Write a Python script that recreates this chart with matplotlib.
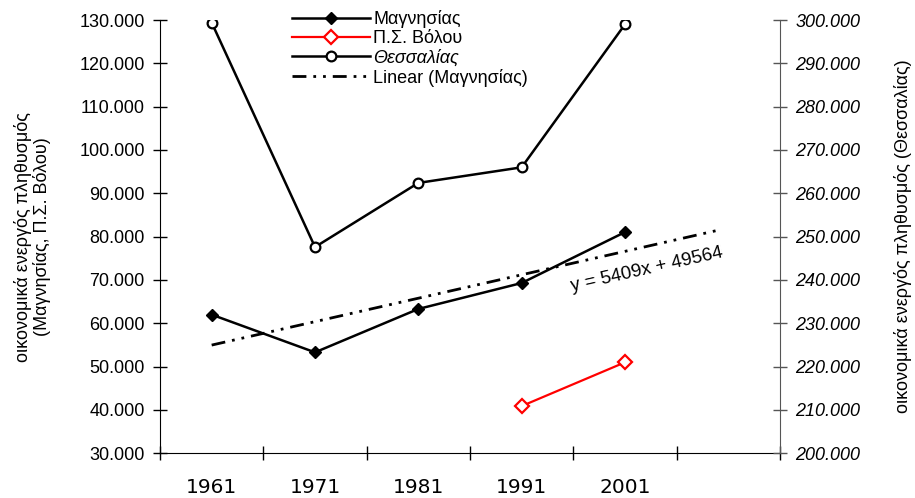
import numpy as np
import matplotlib
matplotlib.use("Agg")
import matplotlib.pyplot as plt
from matplotlib.ticker import FuncFormatter, FixedLocator
from matplotlib import font_manager

years = ["1961", "1971", "1981", "1991", "2001"]
magnesia = [62000, 53300, 63310, 69300, 81045]
volos_years_idx = [3, 4]
volos = [40900, 51000]
thessalia = [299400, 247600, 262400, 266000, 299000]
trend_label = "y = 5409x + 49564"

names = {f.name for f in font_manager.fontManager.ttflist}
narrow = "Liberation Sans Narrow" if "Liberation Sans Narrow" in names else "Liberation Sans"

plt.rcParams['font.family'] = ['Liberation Sans', 'DejaVu Sans']

fig = plt.figure(figsize=(9.15, 4.98), dpi=100)
ax = fig.add_axes([160/915, 1-453.3/498, 620/915, 433.3/498])
ax2 = ax.twinx()

x = np.arange(len(years))
l1, = ax.plot(x, magnesia, color='black', lw=1.8, marker='D', ms=6.5,
              mfc='black', mec='black', label='Μαγνησίας', zorder=4)
l2, = ax.plot(volos_years_idx, volos, color='red', lw=1.6, marker='D', ms=7,
              mfc='white', mec='red', mew=1.6, label='Π.Σ. Βόλου', zorder=4)
l3, = ax2.plot(x, thessalia, color='black', lw=1.8, marker='o', ms=7,
               mfc='white', mec='black', mew=1.6, label='Θεσσαλίας', zorder=4)

# linear trendline (Excel style, x = 1..n, forecast forward 1 period)
coef = np.polyfit(np.arange(1, len(magnesia)+1), magnesia, 1)
tx = np.array([0.0, len(years) - 0.1])
ty = np.polyval(coef, tx + 1)
l4, = ax.plot(tx, ty, color='black', lw=2.0,
              linestyle=(0, (5, 2.5, 1, 2.5, 1, 2.5)), label='Linear (Μαγνησίας)', zorder=3)

ax.text(4.21, 72300, trend_label, rotation=12.7, rotation_mode='anchor',
        ha='center', va='center', fontsize=13.5, family=[narrow, 'DejaVu Sans'])

ax.set_xlim(-0.5, 5.5)
ax.set_ylim(30000, 130000)
ax2.set_ylim(200000, 300000)

fmt = FuncFormatter(lambda v, p: f"{int(round(v)):,}".replace(",", "."))
ax.set_yticks(np.arange(30000, 130001, 10000))
ax.yaxis.set_major_formatter(fmt)
ax2.set_yticks(np.arange(200000, 300001, 10000))
ax2.yaxis.set_major_formatter(fmt)

ax.xaxis.set_major_locator(FixedLocator(np.arange(-0.5, 6.0, 1.0)))
ax.xaxis.set_major_formatter(FuncFormatter(lambda v, p: ""))
ax.xaxis.set_minor_locator(FixedLocator(x))
ax.set_xticklabels(years, minor=True)
ax.tick_params(axis='x', which='minor', length=0, pad=18, labelsize=14.5)
for t in ax.get_xticklabels(minor=True):
    t.set_family(['DejaVu Sans'])
ax.tick_params(axis='x', which='major', direction='inout', length=10, width=1)
ax.tick_params(axis='y', direction='inout', length=10, width=1, labelsize=13, pad=6)
ax2.tick_params(axis='y', direction='inout', length=10, width=1, labelsize=13, pad=6,
                color='#555555')
for t in ax2.get_yticklabels():
    t.set_style('italic')

ax.spines['top'].set_visible(False)
ax2.spines['top'].set_visible(False)
ax2.spines['right'].set_color('#555555')
ax.spines['right'].set_visible(False)
ax2.spines['left'].set_visible(False)
ax2.spines['bottom'].set_visible(False)

ax.set_ylabel("οικονομικά ενεργός πληθυσμός\n(Μαγνησίας, Π.Σ. Βόλου)", fontsize=13,
              labelpad=20, linespacing=1.1)
ax2.set_ylabel("οικονομικά ενεργός πληθυσμός (Θεσσαλίας)", fontsize=13, labelpad=24)

leg = fig.legend([l1, l2, l3, l4], [l1.get_label(), l2.get_label(), l3.get_label(), l4.get_label()],
                 loc='upper left', bbox_to_anchor=(283/915, 1-1/498), frameon=False,
                 fontsize=13, handlelength=4.3, handletextpad=0.2, labelspacing=0.12,
                 borderpad=0.0)
leg.get_texts()[2].set_style('italic')

fig.savefig("out.png", dpi=100)
